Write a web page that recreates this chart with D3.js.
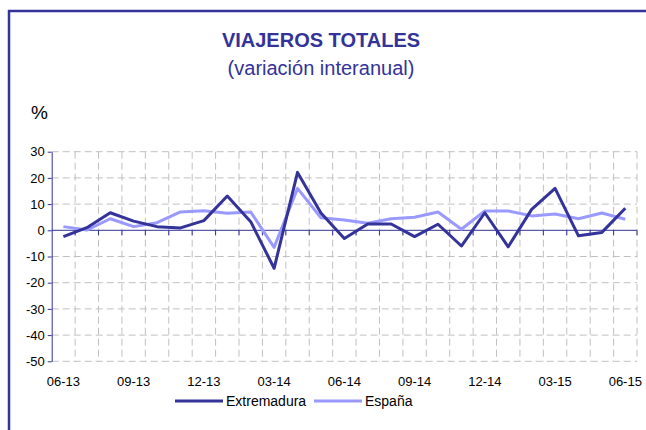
<!DOCTYPE html>
<html lang="es">
<head>
<meta charset="UTF-8">
<title>Viajeros totales</title>
<style>
body{margin:0;background:#fff}
text{font-family:"Liberation Sans",Arial,sans-serif}
</style>
</head>
<body>
<svg id="chart" width="646" height="430"></svg>
<script src="https://cdn.jsdelivr.net/npm/d3@7"></script>
<script>
var months=["06-13","07-13","08-13","09-13","10-13","11-13","12-13","01-14","02-14","03-14","04-14","05-14",
  "06-14","07-14","08-14","09-14","10-14","11-14","12-14","01-15","02-15","03-15","04-15","05-15","06-15"]
var tickLabels=["06-13","09-13","12-13","03-14","06-14","09-14","12-14","03-15","06-15"]
var extremadura=[-2.4,1.0,6.7,3.5,1.4,0.9,3.7,13.1,3.3,-14.5,22.1,6.6,-3.1,2.4,2.4,-2.4,2.3,-6.0,6.7,-6.3,8.0,16.0,-2.1,-0.8,8.4]
var espana=[1.4,0.1,4.4,1.4,2.9,7.0,7.5,6.5,7.0,-6.5,16.0,4.8,3.9,2.7,4.4,5.0,7.0,0.4,7.4,7.4,5.5,6.2,4.4,6.6,4.2]
var yTicks=[30,20,10,0,-10,-20,-30,-40,-50]

var svg=d3.select('#chart')
var margin={left:51.7,right:637,top:151.7,bottom:361.3}
var dark='#333399',light='#9999FF',grid='#C0C0C0'

// frame
svg.append('rect').attr('x',9).attr('y',11).attr('width',700).attr('height',500)
  .attr('fill','none').attr('stroke',dark).attr('stroke-width',2.5)

svg.append('text').attr('x',321).attr('y',47).attr('text-anchor','middle')
  .attr('font-size',20).attr('font-weight','bold').attr('fill',dark).text('VIAJEROS TOTALES')
svg.append('text').attr('x',321).attr('y',75).attr('text-anchor','middle')
  .attr('font-size',20).attr('fill',dark).text('(variación interanual)')
svg.append('text').attr('x',31).attr('y',119).attr('font-size',19).attr('fill','#000').text('%')

var x=d3.scaleBand().domain(months).range([margin.left,margin.right]).padding(0)
var y=d3.scaleLinear().domain([-50,30]).range([margin.bottom,margin.top])
var cx=d=>x(d)+x.bandwidth()/2

// horizontal grid
svg.append('g').selectAll('line').data(yTicks.filter(d=>d!==0)).join('line')
  .attr('x1',margin.left).attr('x2',margin.right).attr('y1',d=>y(d)).attr('y2',d=>y(d))
  .attr('stroke',grid).attr('stroke-width',1).attr('stroke-dasharray','7,4')
// vertical grid at category boundaries
svg.append('g').selectAll('line').data(months).join('line')
  .attr('x1',(d,i)=>margin.left+(i+1)*x.bandwidth()).attr('x2',(d,i)=>margin.left+(i+1)*x.bandwidth())
  .attr('y1',margin.top).attr('y2',margin.bottom)
  .attr('stroke',grid).attr('stroke-width',1).attr('stroke-dasharray','7,4')

// y axis
var yAxis=d3.axisLeft(y).tickValues(yTicks).tickSize(4).tickSizeOuter(0).tickFormat(d=>String(d))
var gy=svg.append('g').attr('transform','translate('+margin.left+',0)').call(yAxis)
gy.select('.domain').attr('stroke',dark)
gy.selectAll('.tick line').attr('stroke',dark)
gy.selectAll('.tick text').attr('font-size',13).attr('fill','#000').attr('x',-7)
  .attr('font-family','"Liberation Sans",Arial,sans-serif')

// zero axis with ticks between categories
var gx=svg.append('g')
gx.append('line').attr('x1',margin.left).attr('x2',margin.right).attr('y1',y(0)).attr('y2',y(0))
  .attr('stroke',dark).attr('stroke-width',1)
gx.selectAll('.tk').data(months).join('line').attr('class','tk')
  .attr('x1',(d,i)=>margin.left+(i+1)*x.bandwidth()).attr('x2',(d,i)=>margin.left+(i+1)*x.bandwidth())
  .attr('y1',y(0)).attr('y2',y(0)+5).attr('stroke',dark)

// x labels
svg.append('g').selectAll('text').data(tickLabels).join('text')
  .attr('x',d=>cx(d)).attr('y',386).attr('text-anchor','middle').attr('font-size',13).attr('fill','#000').text(d=>d)

// lines
var line=vals=>d3.line().x((d,i)=>cx(months[i])).y(d=>y(d))(vals)
svg.append('path').attr('d',line(espana)).attr('fill','none').attr('stroke',light).attr('stroke-width',3)
  .attr('stroke-linejoin','round')
svg.append('path').attr('d',line(extremadura)).attr('fill','none').attr('stroke',dark).attr('stroke-width',3)
  .attr('stroke-linejoin','round')

// legend
var leg=[{name:'Extremadura',c:dark,x:175},{name:'España',c:light,x:314}]
var lg=svg.append('g').selectAll('g').data(leg).join('g')
lg.append('line').attr('x1',d=>d.x).attr('x2',d=>d.x+48).attr('y1',401).attr('y2',401)
  .attr('stroke',d=>d.c).attr('stroke-width',3)
lg.append('text').attr('x',d=>d.x+51).attr('y',406).attr('font-size',14).attr('fill','#000').text(d=>d.name)
</script>
</body>
</html>
